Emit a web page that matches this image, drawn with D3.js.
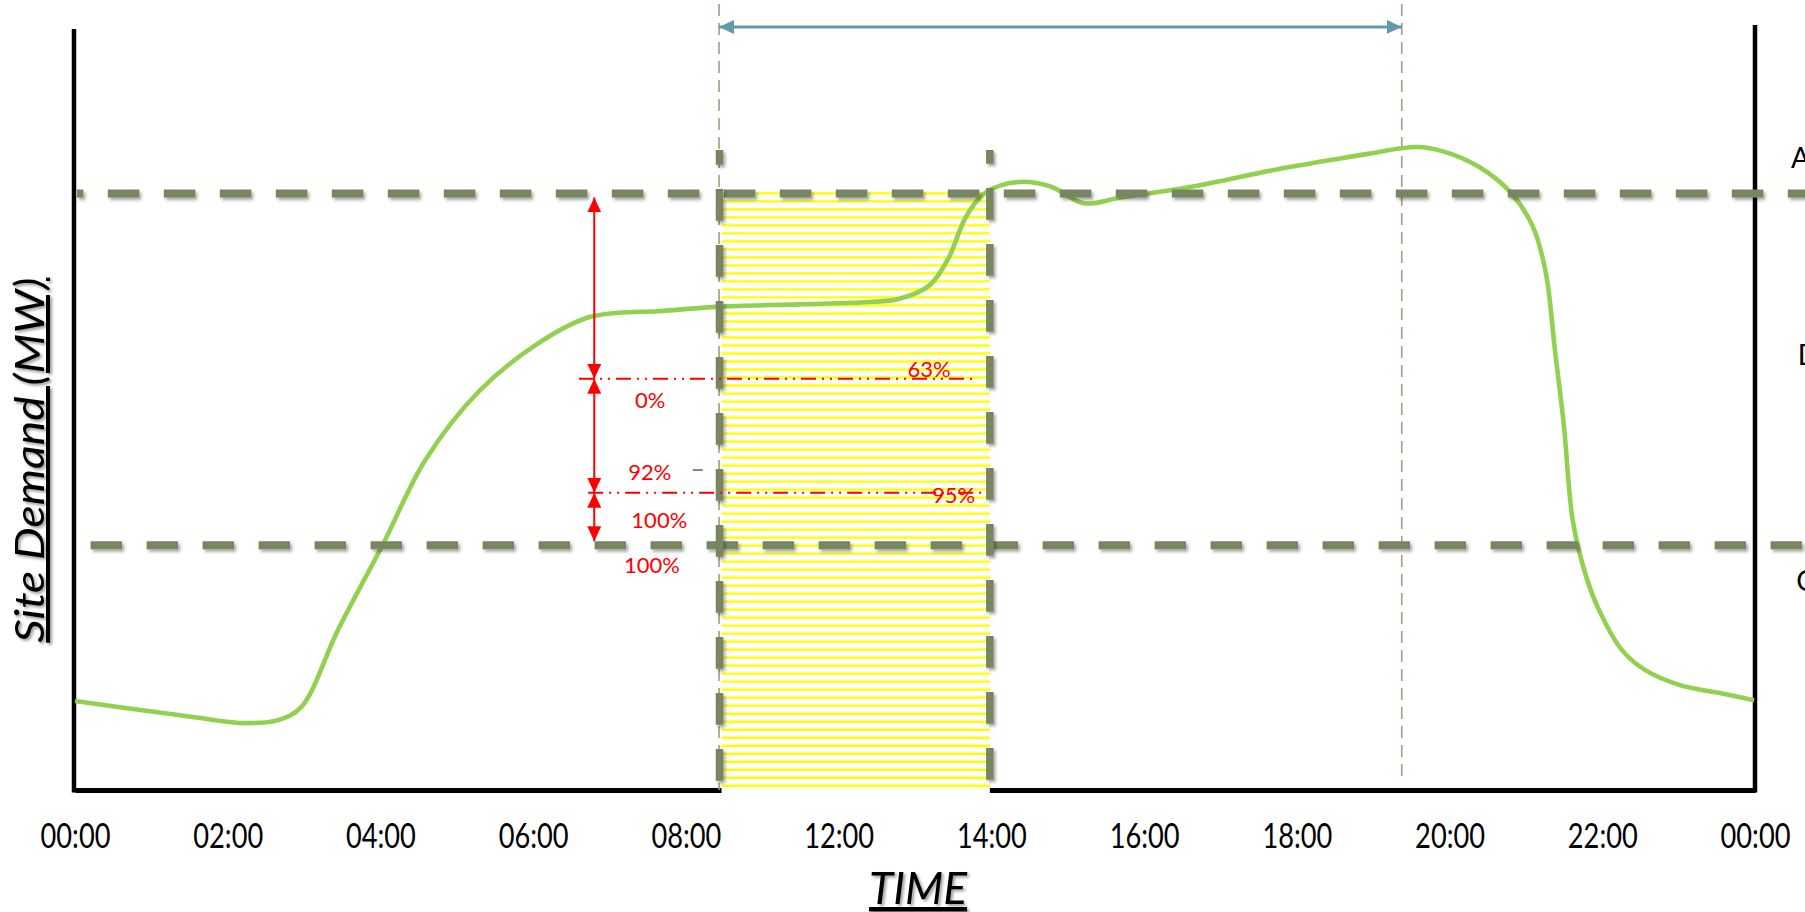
<!DOCTYPE html>
<html><head><meta charset="utf-8">
<script src="https://cdn.jsdelivr.net/npm/d3@7"></script>
<style>html,body{margin:0;padding:0;background:#fff;overflow:hidden}</style>
</head><body><svg id="chart" width="1805" height="912"></svg>
<script>
// ---------------- data ----------------
const timeLabels = ["00:00","02:00","04:00","06:00","08:00","12:00","14:00","16:00","18:00","20:00","22:00","00:00"];
// demand curve: position along the time axis (label slot) and demand value
const demandSlot = [0,0.478,0.806,1.114,1.330,1.481,1.723,2.018,2.293,2.647,3.020,3.348,3.557,3.820,4.213,4.737,5.195,5.392,5.595,5.720,5.831,5.962,6.178,6.388,6.604,6.853,7.292,7.882,8.314,8.465,8.786,8.963,9.192,9.401,9.546,9.631,9.690,9.749,9.808,9.899,9.978,10.129,10.279,10.509,10.810,10.994];
const demandMW = [11.7,10.4,9.5,8.8,9.2,10.9,21.1,32.4,43.4,52.5,58.6,62.1,62.8,63.0,63.6,63.9,64.2,64.6,66.4,70.0,75.3,78.6,80.0,79.4,77.2,78.0,79.3,81.7,83.2,83.7,84.6,84.0,82.0,78.6,74.1,68.0,57.9,47.9,35.3,27.8,23.7,18.4,15.8,13.8,12.6,11.8];
const limitValues = [78.5, 32.2];          // upper / lower dashed limits
const peakWindow = [4.22, 5.99];           // hatched window (slots)
const windowTop = 84.2;                    // top of the window borders
const spanWindow = [4.217, 8.687];         // thin dashed markers + arrow (slots)
const spanArrowValue = 100.4;
const redLevels = [54.1, 39.1];            // dash-dot reference levels
const redLineSlots = [[3.30, 5.90], [3.36, 5.95]];
const redArrowSlot = 3.40;
const pctLabels = ["63%","0%","92%","95%","100%","100%"];
const pctSlot   = [5.592, 3.767, 3.764, 5.752, 3.826, 3.777];
const pctValue  = [54.3, 50.3, 40.8, 37.8, 34.5, 28.6];
const sideLabels = ["A","D","C"];
const sideSlot   = [11.236, 11.28, 11.27];
const sideValue  = [81.8, 55.9, 26.2];

// ---------------- setup ----------------
const svg = d3.select("#chart");
const x = d3.scaleLinear().domain([0, 11]).range([75, 1755]);
const y = d3.scaleLinear().domain([0, 100]).range([790, 30]);
const FONT = "Lato, 'Open Sans', sans-serif";
const DASH = "#778561";

const defs = svg.append("defs");
const f = defs.append("filter").attr("id","shadow").attr("filterUnits","userSpaceOnUse")
  .attr("x",0).attr("y",0).attr("width",1805).attr("height",912);
f.append("feDropShadow").attr("dx",2).attr("dy",2.5).attr("stdDeviation",1.6).attr("flood-color","#000").attr("flood-opacity",0.35);
const f2 = defs.append("filter").attr("id","tshadow").attr("filterUnits","userSpaceOnUse")
  .attr("x",0).attr("y",0).attr("width",1805).attr("height",912);
f2.append("feDropShadow").attr("dx",2).attr("dy",2).attr("stdDeviation",1.5).attr("flood-color","#000").attr("flood-opacity",0.4);

function marker(id, color, len, wid) {
  defs.append("marker").attr("id", id).attr("markerUnits","userSpaceOnUse")
    .attr("viewBox", `0 0 ${len} ${wid}`).attr("markerWidth", len).attr("markerHeight", wid)
    .attr("refX", len).attr("refY", wid/2).attr("orient","auto-start-reverse")
    .append("path").attr("d", `M0,0 L${len},${wid/2} L0,${wid} Z`).attr("fill", color);
}
marker("redHead", "#ff0000", 15, 14);
marker("blueHead", "#6199ad", 15, 14);

// ---------------- axes ----------------
const xAxis = d3.axisBottom(x).tickValues(d3.range(timeLabels.length))
  .tickFormat(i => timeLabels[i]).tickSize(0).tickPadding(34);
const gx = svg.append("g").attr("transform", `translate(0,${y(0)})`).call(xAxis);
gx.select(".domain").attr("stroke","#000").attr("stroke-width",5);
gx.selectAll(".tick text").attr("font-family", FONT).attr("font-size", 34).attr("fill","#000")
  .attr("transform","scale(0.8,1)");

svg.append("line").attr("x1", x(0)-1).attr("x2", x(0)-1).attr("y1", y(100)-1).attr("y2", y(0)+2.5)
  .attr("stroke","#000").attr("stroke-width",4.5);
svg.append("line").attr("x1", x(11)).attr("x2", x(11)).attr("y1", y(100)-5).attr("y2", y(0)+2.5)
  .attr("stroke","#000").attr("stroke-width",4.5);

// ---------------- hatched window ----------------
const wx0 = x(peakWindow[0]) + 2, wx1 = x(peakWindow[1]);
const wy0 = y(limitValues[0]), wy1 = y(0);
svg.append("rect").attr("x", wx0).attr("y", wy0).attr("width", wx1 - wx0).attr("height", wy1 - wy0 + 6).attr("fill","#fff");
svg.append("g").selectAll("line").data(d3.range(wy0, wy1 - 2, 8.005)).join("line")
  .attr("x1", wx0).attr("x2", wx1).attr("y1", d => d).attr("y2", d => d)
  .attr("stroke","#ffff00").attr("stroke-width",2.3);

// ---------------- thin span markers ----------------
svg.append("g").selectAll("line").data(spanWindow).join("line")
  .attr("x1", d => x(d)).attr("x2", d => x(d)).attr("y1", 4).attr("y2", (d,i) => i ? y(0) - 12 : y(0))
  .attr("stroke","#a89b80").attr("stroke-width",1.6).attr("stroke-dasharray","12,7");
svg.append("line").attr("x1", x(spanWindow[0])).attr("x2", x(spanWindow[1]))
  .attr("y1", y(spanArrowValue)).attr("y2", y(spanArrowValue))
  .attr("stroke","#6199ad").attr("stroke-width",3)
  .attr("marker-start","url(#blueHead)").attr("marker-end","url(#blueHead)");

// ---------------- demand curve ----------------
const curveData = demandSlot.map((s, i) => [s, demandMW[i]]);
svg.append("path").datum(curveData)
  .attr("d", d3.line().x(d => x(d[0])).y(d => y(d[1])).curve(d3.curveCatmullRom.alpha(0.5)))
  .attr("fill","none").attr("stroke","#92d050").attr("stroke-width",4.6).attr("stroke-linejoin","round");

// ---------------- limit lines ----------------
const hStart = x(0) + 2;
svg.append("g").selectAll("line").data(limitValues).join("line")
  .attr("x1", hStart).attr("x2", 1805).attr("y1", d => y(d)).attr("y2", d => y(d))
  .attr("stroke", DASH).attr("stroke-width", 8).attr("stroke-dasharray","31.5,24.5")
  .attr("stroke-dashoffset", (d,i) => i ? 42.4 : 25.2).attr("filter","url(#shadow)");

// vertical window borders
svg.append("g").selectAll("line").data(peakWindow).join("line")
  .attr("x1", d => x(d)).attr("x2", d => x(d)).attr("y1", y(windowTop)).attr("y2", y(0))
  .attr("stroke", DASH).attr("stroke-width", 7.5).attr("stroke-dasharray","31.7,24.3")
  .attr("stroke-dashoffset", (d,i) => i ? 18 : 17).attr("filter","url(#shadow)");

// ---------------- red annotations ----------------
redLevels.forEach((lv, i) => {
  svg.append("line").attr("x1", x(redLineSlots[i][0])).attr("x2", x(redLineSlots[i][1]))
    .attr("y1", y(lv)).attr("y2", y(lv)).attr("stroke","#ff0000").attr("stroke-width",2)
    .attr("stroke-dasharray","15,6,2,6,2,6");
});
const arrowStops = [limitValues[0], redLevels[0], redLevels[1], limitValues[1]];
const inset = [4, 0, 0, 4];
d3.pairs(arrowStops).forEach(([a, b], i) => {
  svg.append("line").attr("x1", x(redArrowSlot)).attr("x2", x(redArrowSlot))
    .attr("y1", y(a) + inset[i]).attr("y2", y(b) - inset[i+1])
    .attr("stroke","#ff0000").attr("stroke-width",2)
    .attr("marker-start","url(#redHead)").attr("marker-end","url(#redHead)");
});
svg.append("g").selectAll("text").data(pctLabels).join("text")
  .attr("x", (d,i) => x(pctSlot[i])).attr("y", (d,i) => y(pctValue[i]))
  .attr("text-anchor","middle").attr("font-family", FONT).attr("font-size", 22).attr("fill","#ff0000")
  .text(d => d);
svg.append("line").attr("x1", x(4.045)).attr("x2", x(4.11)).attr("y1", y(42.1)).attr("y2", y(42.1))
  .attr("stroke","#7f8c6d").attr("stroke-width",2);

// ---------------- titles ----------------
svg.append("g").attr("filter","url(#tshadow)")
  .append("text").attr("transform", `translate(44,${y(43.4)}) rotate(-90)`)
  .attr("text-anchor","middle").attr("font-family", FONT).attr("font-style","italic")
  .attr("font-size", 40).attr("text-decoration","underline").attr("fill","#000")
  .attr("textLength", 365).attr("lengthAdjust","spacingAndGlyphs")
  .text("Site Demand (MW)");
svg.append("g").attr("filter","url(#tshadow)")
  .append("text").attr("x", x(5.52)).attr("y", 904)
  .attr("text-anchor","middle").attr("font-family", FONT).attr("font-style","italic")
  .attr("font-size", 44).attr("text-decoration","underline").attr("fill","#000")
  .attr("textLength", 98).attr("lengthAdjust","spacingAndGlyphs")
  .text("TIME");
svg.append("g").selectAll("text").data(sideLabels).join("text")
  .attr("x", (d,i) => x(sideSlot[i])).attr("y", (d,i) => y(sideValue[i]))
  .attr("font-family", FONT).attr("font-size", 28).attr("fill","#000").text(d => d);
</script></body></html>
